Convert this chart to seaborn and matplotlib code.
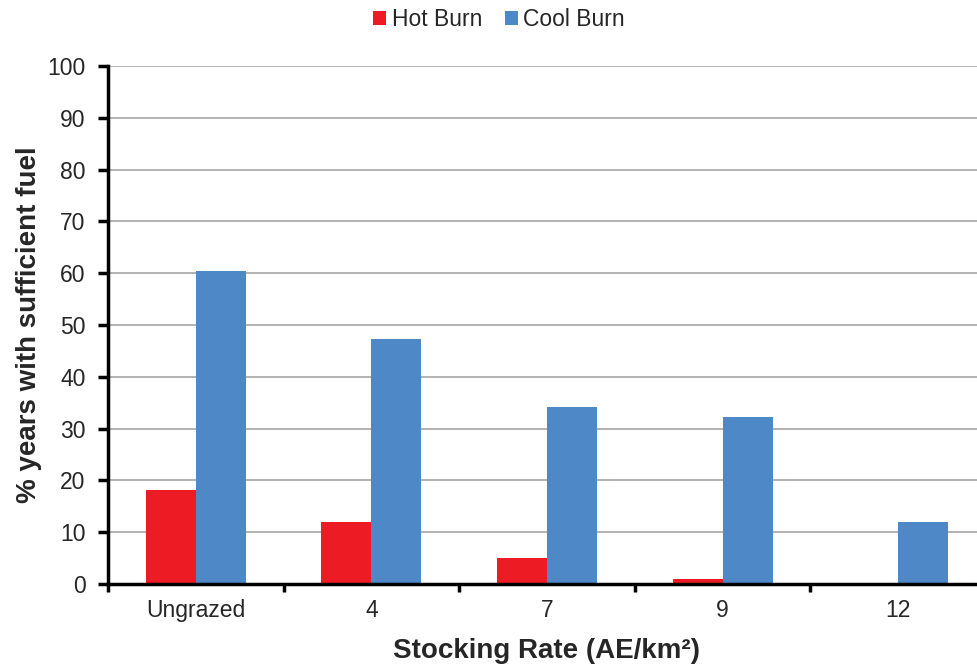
import matplotlib
matplotlib.use("Agg")
import matplotlib.pyplot as plt
import seaborn as sns
import pandas as pd
import numpy as np
from matplotlib.ticker import FixedLocator, NullFormatter

categories = ["Ungrazed", "4", "7", "9", "12"]
hot_burn = [18.1, 11.9, 5.0, 1.0, 0.0]
cool_burn = [60.5, 47.3, 34.1, 32.2, 11.9]
series_names = ["Hot Burn", "Cool Burn"]
colors = ["#ED1C24", "#4F88C6"]

df = pd.DataFrame({
    "Stocking": categories * 2,
    "Value": hot_burn + cool_burn,
    "Series": [series_names[0]] * len(categories) + [series_names[1]] * len(categories),
})

sns.set_style("white")
plt.rcParams["font.family"] = ["Liberation Sans", "DejaVu Sans"]

fig = plt.figure(figsize=(9.77, 6.64), dpi=100)
ax = fig.add_axes([0.1105, 0.1205, 0.8987, 0.780])

sns.barplot(data=df, x="Stocking", y="Value", hue="Series", order=categories,
            hue_order=series_names, palette=colors, width=0.57, ax=ax,
            saturation=1, edgecolor="none", linewidth=0, legend=True)

ax.set_xlim(-0.5, 4.5)
ax.set_ylim(0, 100)
ax.set_yticks(np.arange(0, 101, 10))
ax.yaxis.grid(True, color="#A6A6A6", linewidth=1.2)
ax.set_axisbelow(True)

for s in ["top", "right"]:
    ax.spines[s].set_visible(False)
for s in ["left", "bottom"]:
    ax.spines[s].set_color("black")
    ax.spines[s].set_linewidth(2.5)

# category boundary ticks
ax.xaxis.set_major_locator(FixedLocator(np.arange(-0.5, 5.0, 1.0)))
ax.xaxis.set_major_formatter(NullFormatter())
ax.set_xticks(np.arange(0, 5), labels=categories, minor=True)
ax.tick_params(axis="x", which="major", direction="out", length=6, width=2.5, color="black", bottom=True)
ax.tick_params(axis="x", which="minor", length=0, labelsize=16.5, pad=11, bottom=True)
ax.tick_params(axis="y", direction="out", length=7, width=2.5, color="black", labelsize=16.5, pad=9, left=True)

ax.set_xlabel("Stocking Rate (AE/km²)", fontsize=20, fontweight="bold", labelpad=11)
ax.set_ylabel("% years with sufficient fuel", fontsize=20, fontweight="bold", labelpad=4)

ax.get_legend().remove()
handles, labels = ax.get_legend_handles_labels()
fig.legend(handles, labels, loc="center", bbox_to_anchor=(0.511, 0.970), ncol=2, frameon=False,
           fontsize=16.5, handlelength=0.55, handleheight=0.55, handletextpad=0.25,
           columnspacing=1.0)

fig.savefig("out.png", dpi=100)
